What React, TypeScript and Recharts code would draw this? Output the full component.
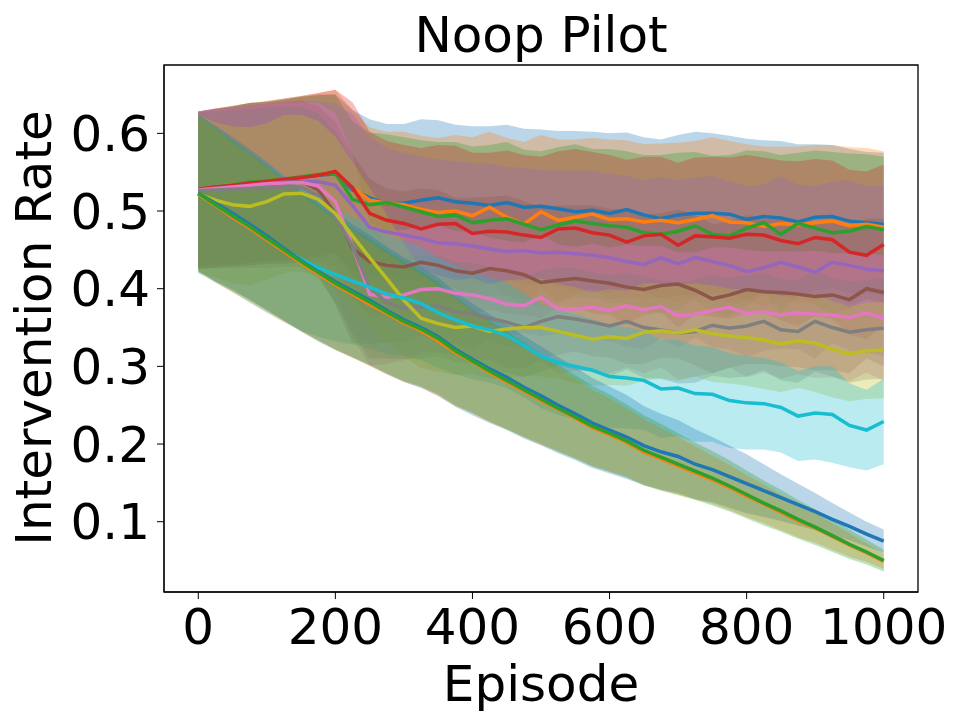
import { ComposedChart, Area, Line, XAxis, YAxis, ReferenceArea } from "recharts";

// episodes sampled every 25
const EPISODES = [
  0, 25, 50, 75, 100, 125, 150, 175, 200, 225, 250, 275, 300, 325, 350, 375, 400, 425, 450, 475, 500,
  525, 550, 575, 600, 625, 650, 675, 700, 725, 750, 775, 800, 825, 850, 875, 900, 925, 950, 975, 1000,
];

const X_TICKS = [0, 200, 400, 600, 800, 1000];
const Y_TICKS = [0.1, 0.2, 0.3, 0.4, 0.5, 0.6];

// mean intervention rate per run
const blueTop = [0.528,0.531,0.533,0.536,0.538,0.540,0.543,0.546,0.548,0.527,0.517,0.509,0.510,0.514,0.517,0.512,0.510,0.507,0.511,0.505,0.506,0.503,0.499,0.501,0.497,0.502,0.495,0.490,0.495,0.497,0.497,0.496,0.489,0.493,0.491,0.486,0.492,0.493,0.487,0.485,0.483];
const orangeTop = [0.528,0.531,0.534,0.536,0.539,0.541,0.544,0.547,0.551,0.530,0.514,0.510,0.508,0.502,0.498,0.500,0.494,0.505,0.492,0.483,0.499,0.488,0.492,0.496,0.489,0.490,0.486,0.488,0.485,0.489,0.494,0.486,0.485,0.480,0.484,0.482,0.485,0.487,0.481,0.483,0.479];
const greenTop = [0.528,0.531,0.534,0.537,0.539,0.541,0.544,0.547,0.549,0.515,0.508,0.511,0.505,0.499,0.493,0.495,0.485,0.488,0.490,0.483,0.476,0.482,0.487,0.484,0.481,0.479,0.472,0.470,0.474,0.481,0.470,0.468,0.478,0.485,0.470,0.484,0.478,0.472,0.474,0.480,0.476];
const red = [0.528,0.531,0.533,0.536,0.538,0.541,0.543,0.546,0.551,0.530,0.497,0.488,0.484,0.477,0.483,0.484,0.471,0.474,0.473,0.469,0.466,0.477,0.478,0.472,0.469,0.460,0.468,0.470,0.456,0.468,0.467,0.465,0.470,0.469,0.462,0.458,0.466,0.463,0.447,0.443,0.457];
const purple = [0.527,0.529,0.531,0.533,0.535,0.537,0.538,0.538,0.533,0.507,0.479,0.473,0.469,0.465,0.459,0.458,0.455,0.451,0.448,0.449,0.446,0.447,0.445,0.443,0.440,0.435,0.431,0.440,0.432,0.440,0.435,0.430,0.422,0.427,0.434,0.428,0.421,0.434,0.430,0.425,0.423];
const brown = [0.527,0.529,0.531,0.533,0.535,0.536,0.538,0.527,0.497,0.452,0.435,0.430,0.428,0.434,0.430,0.423,0.420,0.426,0.423,0.418,0.408,0.411,0.413,0.410,0.407,0.402,0.399,0.404,0.406,0.398,0.387,0.392,0.399,0.396,0.395,0.393,0.390,0.392,0.386,0.400,0.395];
const pink = [0.527,0.529,0.531,0.533,0.535,0.536,0.537,0.532,0.512,0.455,0.393,0.389,0.392,0.399,0.400,0.394,0.392,0.387,0.380,0.378,0.389,0.374,0.374,0.376,0.372,0.378,0.373,0.377,0.365,0.367,0.372,0.376,0.368,0.370,0.366,0.369,0.367,0.366,0.363,0.369,0.362];
const gray = [0.526,0.527,0.528,0.529,0.530,0.531,0.531,0.520,0.492,0.455,0.402,0.382,0.375,0.376,0.378,0.370,0.368,0.362,0.357,0.350,0.358,0.364,0.361,0.357,0.352,0.358,0.350,0.347,0.343,0.345,0.353,0.349,0.352,0.358,0.347,0.345,0.358,0.350,0.344,0.347,0.349];
const olive = [0.522,0.514,0.508,0.506,0.512,0.522,0.523,0.515,0.497,0.468,0.440,0.413,0.385,0.362,0.355,0.350,0.352,0.345,0.348,0.350,0.350,0.345,0.340,0.335,0.338,0.336,0.344,0.346,0.343,0.347,0.342,0.339,0.337,0.334,0.329,0.333,0.330,0.322,0.316,0.320,0.321];
const cyan = [0.522,0.508,0.494,0.479,0.465,0.451,0.438,0.427,0.418,0.410,0.402,0.393,0.388,0.381,0.369,0.360,0.352,0.347,0.340,0.327,0.313,0.305,0.300,0.295,0.287,0.285,0.282,0.271,0.272,0.265,0.264,0.256,0.253,0.252,0.247,0.236,0.240,0.238,0.224,0.218,0.229];
const blueLow = [0.523,0.510,0.497,0.483,0.468,0.452,0.436,0.422,0.409,0.397,0.385,0.372,0.360,0.350,0.338,0.322,0.309,0.297,0.286,0.273,0.262,0.250,0.239,0.227,0.218,0.209,0.198,0.190,0.184,0.174,0.167,0.158,0.149,0.140,0.131,0.122,0.113,0.103,0.094,0.084,0.075];
const orangeLow = [0.522,0.507,0.492,0.478,0.463,0.448,0.433,0.419,0.405,0.393,0.380,0.368,0.356,0.346,0.333,0.318,0.306,0.292,0.280,0.268,0.256,0.245,0.233,0.221,0.212,0.202,0.190,0.181,0.172,0.163,0.154,0.144,0.133,0.123,0.112,0.101,0.092,0.081,0.070,0.060,0.049];
const greenLow = [0.523,0.508,0.494,0.480,0.465,0.450,0.435,0.421,0.407,0.395,0.383,0.370,0.358,0.348,0.336,0.320,0.307,0.294,0.282,0.270,0.258,0.246,0.235,0.223,0.214,0.204,0.192,0.183,0.174,0.165,0.156,0.146,0.135,0.124,0.114,0.103,0.093,0.082,0.071,0.061,0.050];

// half-width of the shaded band
const blueTopSpread = [0.100,0.101,0.102,0.103,0.102,0.103,0.104,0.104,0.102,0.103,0.101,0.103,0.102,0.104,0.100,0.099,0.099,0.102,0.100,0.101,0.099,0.100,0.104,0.101,0.103,0.099,0.100,0.102,0.103,0.105,0.103,0.101,0.104,0.098,0.099,0.100,0.094,0.092,0.093,0.091,0.092];
const orangeTopSpread = [0.100,0.101,0.102,0.103,0.103,0.104,0.104,0.105,0.105,0.100,0.094,0.092,0.094,0.095,0.096,0.098,0.101,0.097,0.102,0.106,0.099,0.104,0.100,0.098,0.103,0.101,0.100,0.099,0.103,0.101,0.101,0.104,0.101,0.103,0.099,0.101,0.100,0.098,0.101,0.098,0.098];
const greenTopSpread = [0.099,0.100,0.101,0.102,0.102,0.103,0.103,0.102,0.101,0.100,0.093,0.088,0.090,0.092,0.096,0.094,0.098,0.097,0.099,0.096,0.101,0.100,0.099,0.096,0.099,0.098,0.100,0.102,0.101,0.095,0.101,0.104,0.100,0.092,0.102,0.091,0.100,0.104,0.100,0.093,0.094];
const redSpread = [0.100,0.101,0.102,0.103,0.103,0.104,0.105,0.106,0.105,0.110,0.105,0.102,0.101,0.104,0.102,0.100,0.104,0.101,0.105,0.103,0.104,0.100,0.102,0.104,0.103,0.106,0.102,0.100,0.106,0.101,0.103,0.104,0.102,0.100,0.103,0.106,0.101,0.102,0.106,0.108,0.103];
const purpleSpread = [0.101,0.102,0.102,0.103,0.103,0.104,0.104,0.103,0.105,0.118,0.116,0.108,0.106,0.105,0.108,0.106,0.107,0.110,0.109,0.106,0.107,0.105,0.107,0.109,0.108,0.110,0.109,0.104,0.108,0.103,0.110,0.108,0.110,0.107,0.111,0.106,0.111,0.104,0.110,0.107,0.110];
const brownSpread = [0.101,0.102,0.102,0.103,0.103,0.104,0.104,0.108,0.118,0.122,0.106,0.099,0.097,0.095,0.097,0.094,0.097,0.092,0.097,0.095,0.097,0.096,0.094,0.097,0.096,0.099,0.096,0.093,0.096,0.097,0.096,0.094,0.096,0.093,0.095,0.094,0.095,0.097,0.095,0.090,0.095];
const pinkSpread = [0.101,0.102,0.102,0.103,0.103,0.104,0.104,0.107,0.114,0.118,0.092,0.086,0.084,0.081,0.082,0.080,0.082,0.079,0.082,0.081,0.081,0.083,0.080,0.082,0.081,0.079,0.082,0.078,0.082,0.080,0.081,0.077,0.082,0.078,0.082,0.079,0.082,0.080,0.082,0.077,0.081];
const graySpread = [0.101,0.101,0.102,0.102,0.103,0.103,0.103,0.106,0.110,0.112,0.092,0.072,0.066,0.066,0.065,0.064,0.065,0.066,0.065,0.064,0.065,0.063,0.065,0.064,0.065,0.062,0.065,0.063,0.065,0.066,0.065,0.064,0.065,0.063,0.065,0.066,0.065,0.063,0.065,0.064,0.065];
const oliveSpread = [0.102,0.100,0.101,0.102,0.101,0.102,0.101,0.101,0.099,0.095,0.090,0.082,0.073,0.064,0.062,0.061,0.062,0.061,0.063,0.062,0.063,0.061,0.062,0.060,0.062,0.061,0.063,0.061,0.062,0.060,0.062,0.061,0.062,0.063,0.062,0.061,0.063,0.062,0.061,0.062,0.062];
const cyanSpread = [0.102,0.100,0.098,0.097,0.096,0.094,0.092,0.089,0.086,0.082,0.079,0.077,0.074,0.073,0.071,0.070,0.069,0.068,0.068,0.067,0.067,0.068,0.067,0.066,0.066,0.065,0.064,0.063,0.062,0.062,0.061,0.061,0.060,0.059,0.058,0.058,0.060,0.062,0.054,0.052,0.055];
const blueLowSpread = [0.101,0.100,0.098,0.097,0.095,0.093,0.091,0.090,0.088,0.086,0.084,0.082,0.080,0.078,0.076,0.074,0.072,0.070,0.068,0.066,0.064,0.062,0.060,0.058,0.056,0.054,0.051,0.049,0.047,0.045,0.042,0.040,0.038,0.034,0.030,0.027,0.024,0.021,0.018,0.016,0.015];
const orangeLowSpread = [0.100,0.099,0.097,0.095,0.093,0.091,0.088,0.086,0.084,0.082,0.080,0.078,0.076,0.073,0.071,0.069,0.066,0.064,0.061,0.059,0.057,0.054,0.051,0.049,0.047,0.044,0.042,0.040,0.037,0.034,0.031,0.029,0.027,0.025,0.023,0.021,0.019,0.017,0.015,0.012,0.010];
const greenLowSpread = [0.100,0.099,0.097,0.095,0.093,0.091,0.089,0.087,0.085,0.083,0.081,0.079,0.077,0.074,0.072,0.070,0.067,0.065,0.063,0.061,0.058,0.056,0.054,0.052,0.050,0.047,0.045,0.043,0.040,0.037,0.035,0.033,0.031,0.029,0.027,0.025,0.023,0.021,0.019,0.016,0.014];

const SERIES = [
  { color: "#1f77b4", mean: blueTop, spread: blueTopSpread },
  { color: "#ff7f0e", mean: orangeTop, spread: orangeTopSpread },
  { color: "#2ca02c", mean: greenTop, spread: greenTopSpread },
  { color: "#d62728", mean: red, spread: redSpread },
  { color: "#9467bd", mean: purple, spread: purpleSpread },
  { color: "#8c564b", mean: brown, spread: brownSpread },
  { color: "#e377c2", mean: pink, spread: pinkSpread },
  { color: "#7f7f7f", mean: gray, spread: graySpread },
  { color: "#bcbd22", mean: olive, spread: oliveSpread },
  { color: "#17becf", mean: cyan, spread: cyanSpread },
  { color: "#1f77b4", mean: blueLow, spread: blueLowSpread },
  { color: "#ff7f0e", mean: orangeLow, spread: orangeLowSpread },
  { color: "#2ca02c", mean: greenLow, spread: greenLowSpread },
];

const rows = EPISODES.map((ep, i) => {
  const row: Record<string, number | number[]> = { ep };
  SERIES.forEach((s, k) => {
    row[`m${k}`] = s.mean[i];
    row[`b${k}`] = [s.mean[i] - s.spread[i], s.mean[i] + s.spread[i]];
  });
  return row;
});

const FONT = "DejaVu Sans";
const X_DOMAIN = [-50, 1050];
const Y_DOMAIN = [0.0095, 0.688];

const XLabel = () => (
  <text x={541} y={701} textAnchor="middle" fontSize={50} fontFamily={FONT} fill="#000">
    Episode
  </text>
);

const YLabel = () => (
  <text x={51} y={328} transform="rotate(-90, 51, 328)" textAnchor="middle" fontSize={50} fontFamily={FONT} fill="#000">
    Intervention Rate
  </text>
);

export default function App() {
  return (
    <div style={{ position: "absolute", left: 0, top: 0, width: 968, height: 726, background: "#fff" }}>
      <div
        style={{
          position: "absolute",
          left: 241,
          top: 10,
          width: 600,
          textAlign: "center",
          fontFamily: FONT,
          fontSize: 50,
          lineHeight: "50px",
          color: "#000",
        }}
      >
        Noop Pilot
      </div>
      <ComposedChart
        width={968}
        height={726}
        data={rows}
        margin={{ top: 65, right: 50, bottom: 0, left: 0 }}
        style={{ fontFamily: FONT }}
      >
        <XAxis
          dataKey="ep"
          type="number"
          domain={X_DOMAIN}
          ticks={X_TICKS}
          allowDataOverflow
          height={134}
          tickSize={7}
          tickMargin={9}
          tick={{ fill: "#000", fontSize: 50, fontFamily: FONT }}
          stroke="#000"
          label={{ content: XLabel }}
        />
        <YAxis
          type="number"
          domain={Y_DOMAIN}
          ticks={Y_TICKS}
          allowDataOverflow
          width={164}
          tickSize={7}
          tickMargin={7}
          tickFormatter={(v: number) => v.toFixed(1)}
          tick={{ fill: "#000", fontSize: 50, fontFamily: FONT }}
          stroke="#000"
          label={{ content: YLabel }}
        />
        {SERIES.map((s, k) => (
          <Area
            key={`band${k}`}
            dataKey={`b${k}`}
            type="linear"
            stroke="none"
            fill={s.color}
            fillOpacity={0.3}
            dot={false}
            activeDot={false}
            isAnimationActive={false}
          />
        ))}
        {SERIES.map((s, k) => (
          <Line
            key={`mean${k}`}
            dataKey={`m${k}`}
            type="linear"
            stroke={s.color}
            strokeWidth={3.5}
            dot={false}
            activeDot={false}
            isAnimationActive={false}
          />
        ))}
        <ReferenceArea
          x1={X_DOMAIN[0]}
          x2={X_DOMAIN[1]}
          y1={Y_DOMAIN[0]}
          y2={Y_DOMAIN[1]}
          fill="none"
          stroke="#000"
          strokeWidth={1.3}
        />
      </ComposedChart>
    </div>
  );
}
